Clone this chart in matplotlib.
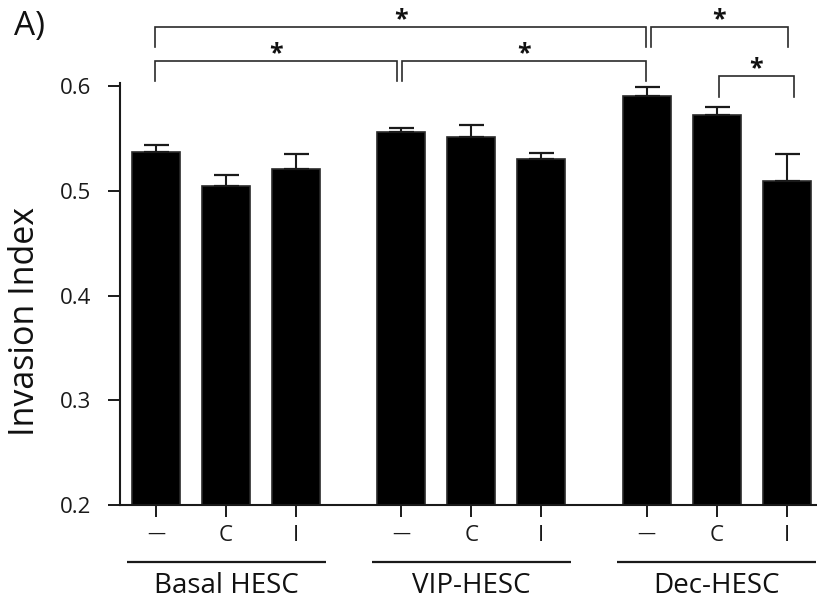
import matplotlib
matplotlib.use("Agg")
import matplotlib.pyplot as plt
import matplotlib.transforms as mtransforms

plt.rcParams['font.family'] = ['Open Sans', 'DejaVu Sans']

# ---- data ----
groups = ["Basal HESC", "VIP-HESC", "Dec-HESC"]
treatments = ["\u2014", "C", "I"]
means = [0.537, 0.505, 0.521,
         0.556, 0.551, 0.530,
         0.590, 0.572, 0.509]
errors = [0.0064, 0.0096, 0.0137,
          0.0035, 0.0120, 0.0064,
          0.0095, 0.0080, 0.0260]
y_ticks = [0.2, 0.3, 0.4, 0.5, 0.6]
y_tick_labels = ["0.2", "0.3", "0.4", "0.5", "0.6"]
# significance brackets: (left bar index, right bar index, level)
sig_pairs = [(0, 6, "top"), (6, 8, "top"), (0, 3, "mid"), (3, 6, "mid"), (7, 8, "low")]

# ---- layout ----
W, H = 817, 605
fig = plt.figure(figsize=(W / 100, H / 100), dpi=100)
ax_left, ax_right = 120, 817
ax_top, ax_bottom = 86, 505
ax = fig.add_axes([ax_left / W, 1 - ax_bottom / H, (ax_right - ax_left) / W,
                   (ax_bottom - ax_top) / H])

gap = 1.5
pos = []
for g in range(len(groups)):
    for t in range(len(treatments)):
        pos.append(g * (len(treatments) - 1 + gap) + t)

bar_w = 0.685
ax.bar(pos, [m - 0.2 for m in means], bottom=0.2, width=bar_w, color="black",
       edgecolor="#2a2a2a", linewidth=1.2, zorder=2)
ax.errorbar(pos, means, yerr=[[0] * len(errors), errors], fmt="none",
            ecolor="#1a1a1a", elinewidth=1.5, capsize=9, capthick=1.6,
            clip_on=False, zorder=3)

ax.set_xlim(pos[0] - 0.514, pos[0] - 0.514 + (ax_right - ax_left) / 70.08)
ax.set_ylim(0.2, 0.6)
ax.set_yticks(y_ticks)
ax.set_yticklabels(y_tick_labels, fontsize=16)
ax.set_xticks(pos)
ax.set_xticklabels(treatments * len(groups), fontsize=16)
ax.tick_params(axis="y", direction="out", length=8.6, width=1.4, pad=12, colors="#1a1a1a")
ax.tick_params(axis="x", direction="out", length=8.6, width=1.4, pad=6, colors="#1a1a1a")
for lbl in ax.get_xticklabels():
    if lbl.get_text() == "\u2014":
        lbl.set_fontsize(13)
for s in ["top", "right"]:
    ax.spines[s].set_visible(False)
for s in ["left", "bottom"]:
    ax.spines[s].set_linewidth(1.5)
    ax.spines[s].set_color("#1a1a1a")
ax.spines["left"].set_bounds(0.2, 0.603)

# group underlines and labels
trans = mtransforms.blended_transform_factory(ax.transData, ax.transAxes)
for g, name in enumerate(groups):
    c = pos[g * 3 + 1]
    ax.plot([c - 1.42, c + 1.42], [-0.1353, -0.1353], transform=trans,
            color="#1a1a1a", lw=1.6, clip_on=False, solid_capstyle="butt")
    ax.text(c, -0.160, name, transform=trans, ha="center", va="top",
            fontsize=20, color="#111111")

# significance brackets
levels = {"top": (0.6563, 0.6372), "mid": (0.6239, 0.6048), "low": (0.6098, 0.5895)}
offsets = {(0, 6): (-0.01, -0.01), (6, 8): (0.06, 0.02), (0, 3): (-0.01, -0.06),
           (3, 6): (0.01, -0.01), (7, 8): (0.03, 0.1)}
for i, j, lev in sig_pairs:
    y1, y0 = levels[lev]
    oi, oj = offsets[(i, j)]
    xl, xr = pos[i] + oi, pos[j] + oj
    ax.plot([xl, xl, xr, xr], [y0, y1, y1, y0], color="#2a2a2a", lw=1.2,
            clip_on=False, solid_joinstyle="miter")
    ax.text((xl + xr) / 2, y1 + 0.0005, "*", ha="center", va="baseline",
            fontsize=18, fontweight="bold", color="#111111", clip_on=False)

fig.text(25 / W, 1 - 321 / H, "Invasion Index", rotation=90, ha="center",
         va="center", fontsize=24.5, color="#111111")
fig.text(14 / W, 1 - 35 / H, "A)", ha="left", va="baseline", fontsize=24,
         color="#111111")

fig.savefig("out.png", dpi=100)
